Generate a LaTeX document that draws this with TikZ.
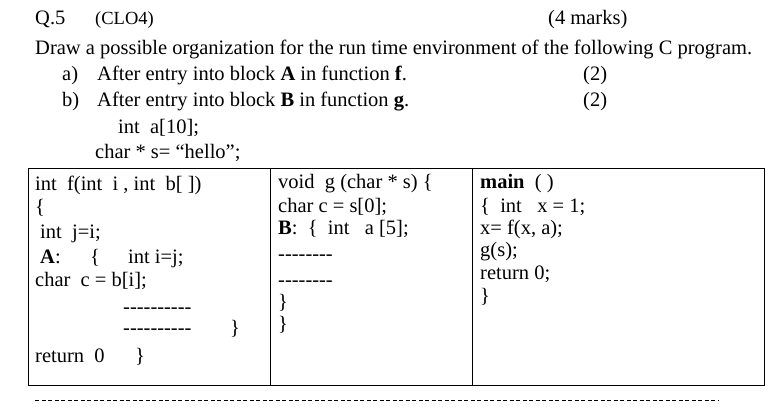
\documentclass[tikz,border=0pt]{standalone}
\usepackage{fontspec}
\setmainfont{Liberation Serif}
\newcommand{\hy}[1]{\foreach \k in {1,...,#1}{\symbol{45}}}
\begin{document}
\begin{tikzpicture}[x=1pt,y=-1pt,
 t/.style={anchor=base west,inner sep=0pt,font=\fontsize{20.5}{20}\selectfont},
 c/.style={anchor=base west,inner sep=0pt,font=\fontsize{20.5}{20}\selectfont}]
\useasboundingbox (0,0) rectangle (775,412);
\node[t] (q) at (35,25) {Q.5};
\node[t,font=\fontsize{18.5}{18}\selectfont] (clo) at (95,25) {(CLO4)};
\node[t] (marks) at (548,25) {(4 marks)};
\node[t] (l1) at (35,55) {Draw a possible organization for the run time environment of the following C program.};
\node[t] (la) at (62,80) {a)};
\node[t] (la2) at (97,80) {After entry into block \textbf{A} in function \textbf{f}.};
\node[t] (pa) at (583,80) {(2)};
\node[t] (lb) at (62,106) {b)};
\node[t] (lb2) at (97,106) {After entry into block \textbf{B} in function \textbf{g}.};
\node[t] (pb) at (583,106) {(2)};
\node[c] (ia) at (118,133) {int\ \ a[10];};
\node[c] (cs) at (95,158) {char * s= “hello”;};
\draw[line width=0.8pt] (28,168) rectangle (764,385);
\draw[line width=0.8pt] (270,168) -- (270,385) (472,168) -- (472,385);
% column 1
\node[c] (f1) at (35,190) {int\ \ f(int\ \ i , int\ \ b[ ])};
\node[c] (f2) at (35,213) {\{};
\node[c] (f3) at (40,238) {int\ \ j=i;};
\node[c] (f4) at (40,263) {\textbf{A}:};
\node[c] (f4b) at (90,263) {\{};
\node[c] (f4c) at (128,263) {int i=j;};
\node[c] (f5) at (35,286) {char\ \ c = b[i];};
\node[c] (f6) at (123,313) {\hy{10}};
\node[c] (f7) at (123,334) {\hy{10}};
\node[c] (f7b) at (230,334) {\}};
\node[c] (f8) at (35,362) {return\ \ 0};
\node[c] (f8b) at (135,362) {\}};
% column 2
\node[c] (g1) at (278,188) {void\ \ g (char * s) \{};
\node[c] (g2) at (278,212) {char c = s[0];};
\node[c] (g3) at (278,234) {\textbf{B}:\ \ \{\ \ int\ \ \ a [5];};
\node[c] (g4) at (278,260) {\hy{8}};
\node[c] (g5) at (278,286) {\hy{8}};
\node[c] (g6) at (278,308) {\}};
\node[c] (g7) at (278,330) {\}};
% column 3
\node[c] (m1) at (480,188) {\textbf{main}\ \ ( )};
\node[c] (m2) at (480,212) {\{\ \ int\ \ \ x = 1;};
\node[c] (m3) at (480,234) {x= f(x, a);};
\node[c] (m4) at (480,256) {g(s);};
\node[c] (m5) at (480,279) {return 0;};
\node[c] (m6) at (480,302) {\}};
\draw[line width=0.8pt,dash pattern=on 4pt off 2.5pt] (35,400) -- (718,400);
\end{tikzpicture}
\end{document}
